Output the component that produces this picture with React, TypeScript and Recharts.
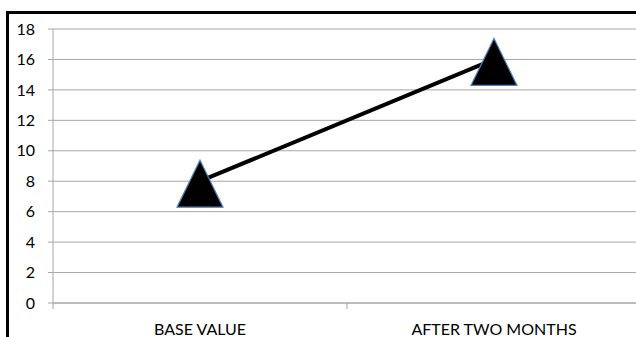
import { LineChart, Line, XAxis, YAxis, CartesianGrid } from "recharts";

const categories = ["BASE VALUE", "AFTER TWO MONTHS"];
const values = [8, 16];
const yTicks = [0, 2, 4, 6, 8, 10, 12, 14, 16, 18];

const data = categories.map((name, i) => ({ name, value: values[i] }));

const FONT = "Lato, 'Open Sans', sans-serif";
const GRID = "#a6a6a6";

// big black triangle marker, sitting a bit low on its point like the office default
function TriangleDot(props: any) {
  const { cx, cy } = props;
  if (cx == null || cy == null) return null;
  const top = cy - 21;
  const bottom = cy + 26;
  const half = 23;
  return (
    <path
      d={`M${cx},${top} L${cx + half},${bottom} L${cx - half},${bottom} Z`}
      fill="#000"
      stroke="#4f81bd"
      strokeWidth={1.2}
    />
  );
}

// category label in the band centre, tick mark on the band edge
function CategoryTick(props: any) {
  const { x, y, payload, index, visibleTicksCount } = props;
  const half = payload?.offset ?? 0;
  const last = index === visibleTicksCount - 1;
  return (
    <g>
      <line x1={x - half} x2={x - half} y1={y} y2={y + 6} stroke={GRID} />
      {last && <line x1={x + half} x2={x + half} y1={y} y2={y + 6} stroke={GRID} />}
      <text x={x} y={y + 32} textAnchor="middle" fill="#000" fontSize={16} fontFamily={FONT}>
        {payload.value}
      </text>
    </g>
  );
}

export default function App() {
  return (
    <div
      style={{
        position: "fixed",
        left: 0,
        top: 0,
        width: 636,
        height: 337,
        overflow: "hidden",
        background: "#fff",
      }}
    >
      <div
        style={{
          position: "absolute",
          left: 6,
          top: 11,
          width: 700,
          height: 400,
          border: "3px solid #000",
          boxSizing: "border-box",
        }}
      />
      <LineChart
        width={660}
        height={337}
        data={data}
        margin={{ top: 29, right: 19, bottom: 0, left: 8 }}
        style={{ position: "absolute", left: 0, top: 0 }}
      >
        <CartesianGrid horizontal vertical={false} stroke={GRID} strokeDasharray="" />
        <XAxis
          dataKey="name"
          scale="band"
          height={34}
          axisLine={{ stroke: GRID }}
          tickLine={false}
          tickSize={0}
          tickMargin={0}
          tick={<CategoryTick />}
          interval={0}
        />
        <YAxis
          width={45}
          domain={[0, 18]}
          ticks={yTicks}
          interval={0}
          axisLine={{ stroke: GRID }}
          tickLine={{ stroke: GRID }}
          tickSize={5}
          tickMargin={13}
          tick={{ fill: "#000", fontSize: 16, fontFamily: FONT }}
        />
        <Line
          dataKey="value"
          stroke="#000"
          strokeWidth={4}
          dot={<TriangleDot />}
          activeDot={false}
          isAnimationActive={false}
        />
      </LineChart>
    </div>
  );
}
